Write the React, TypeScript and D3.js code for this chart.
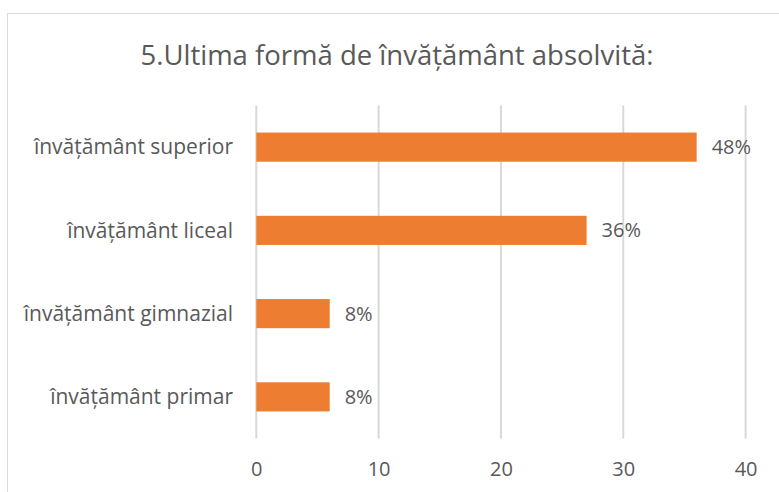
import * as d3 from "d3";
import { useRef, useEffect } from "react";

const title = "5.Ultima formă de învățământ absolvită:";
const categories = [
  "învățământ superior",
  "învățământ liceal",
  "învățământ gimnazial",
  "învățământ primar",
];
const values = [36, 27, 6, 6];
const labels = ["48%", "36%", "8%", "8%"];
const ticks = [0, 10, 20, 30, 40];

export default function App() {
  const width = 779;
  const height = 492;
  const marginLeft = 256.3;
  const marginRight = 33.4; // 40 falls at 745.6
  const plotTop = 105.5;
  const plotBottom = 438.5;
  const font = "'Open Sans', 'Noto Sans', sans-serif";
  const textColor = "#595959";

  const gx = useRef<SVGGElement>(null);

  const x = d3.scaleLinear([0, 40], [marginLeft, width - marginRight]);
  const y = d3
    .scaleBand<string>()
    .domain(categories)
    .range([plotTop, plotBottom])
    .paddingInner(0.65)
    .paddingOuter(0.325);

  useEffect(() => {
    const g = d3.select(gx.current);
    g.call(d3.axisBottom(x).tickValues(ticks).tickSize(0).tickPadding(0) as any);
    g.select(".domain").remove();
    g.selectAll("text")
      .attr("y", 37)
      .attr("dy", null)
      .attr("fill", textColor)
      .style("font-family", font)
      .style("font-size", "20px");
  }, [x]);

  return (
    <svg
      width={width}
      height={height}
      style={{ position: "absolute", left: 0, top: 0, background: "#fff" }}
    >
      <rect x={7.5} y={13.5} width={790} height={500} fill="#fff" stroke="#D9D9D9" />
      <text
        x={397}
        y={65}
        textAnchor="middle"
        fill={textColor}
        fontFamily={font}
        fontSize={27.5}
      >
        {title}
      </text>
      <g stroke="#D9D9D9" strokeWidth={2}>
        {ticks.map((t) => (
          <line key={t} x1={x(t)} x2={x(t)} y1={plotTop} y2={plotBottom} />
        ))}
      </g>
      <g fill="#ED7D31">
        {categories.map((c, i) => (
          <rect
            key={c}
            x={x(0)}
            y={y(c)}
            width={x(values[i]) - x(0)}
            height={y.bandwidth()}
          />
        ))}
      </g>
      <g fill={textColor} fontFamily={font} fontSize={21}>
        {categories.map((c) => (
          <text key={c} x={233} y={(y(c) ?? 0) + y.bandwidth() / 2} dy="0.35em" textAnchor="end">
            {c}
          </text>
        ))}
      </g>
      <g fill={textColor} fontFamily={font} fontSize={20}>
        {categories.map((c, i) => (
          <text key={c} x={x(values[i]) + 15} y={(y(c) ?? 0) + y.bandwidth() / 2} dy="0.35em">
            {labels[i]}
          </text>
        ))}
      </g>
      <g ref={gx} transform={`translate(0,${plotBottom})`} />
    </svg>
  );
}
